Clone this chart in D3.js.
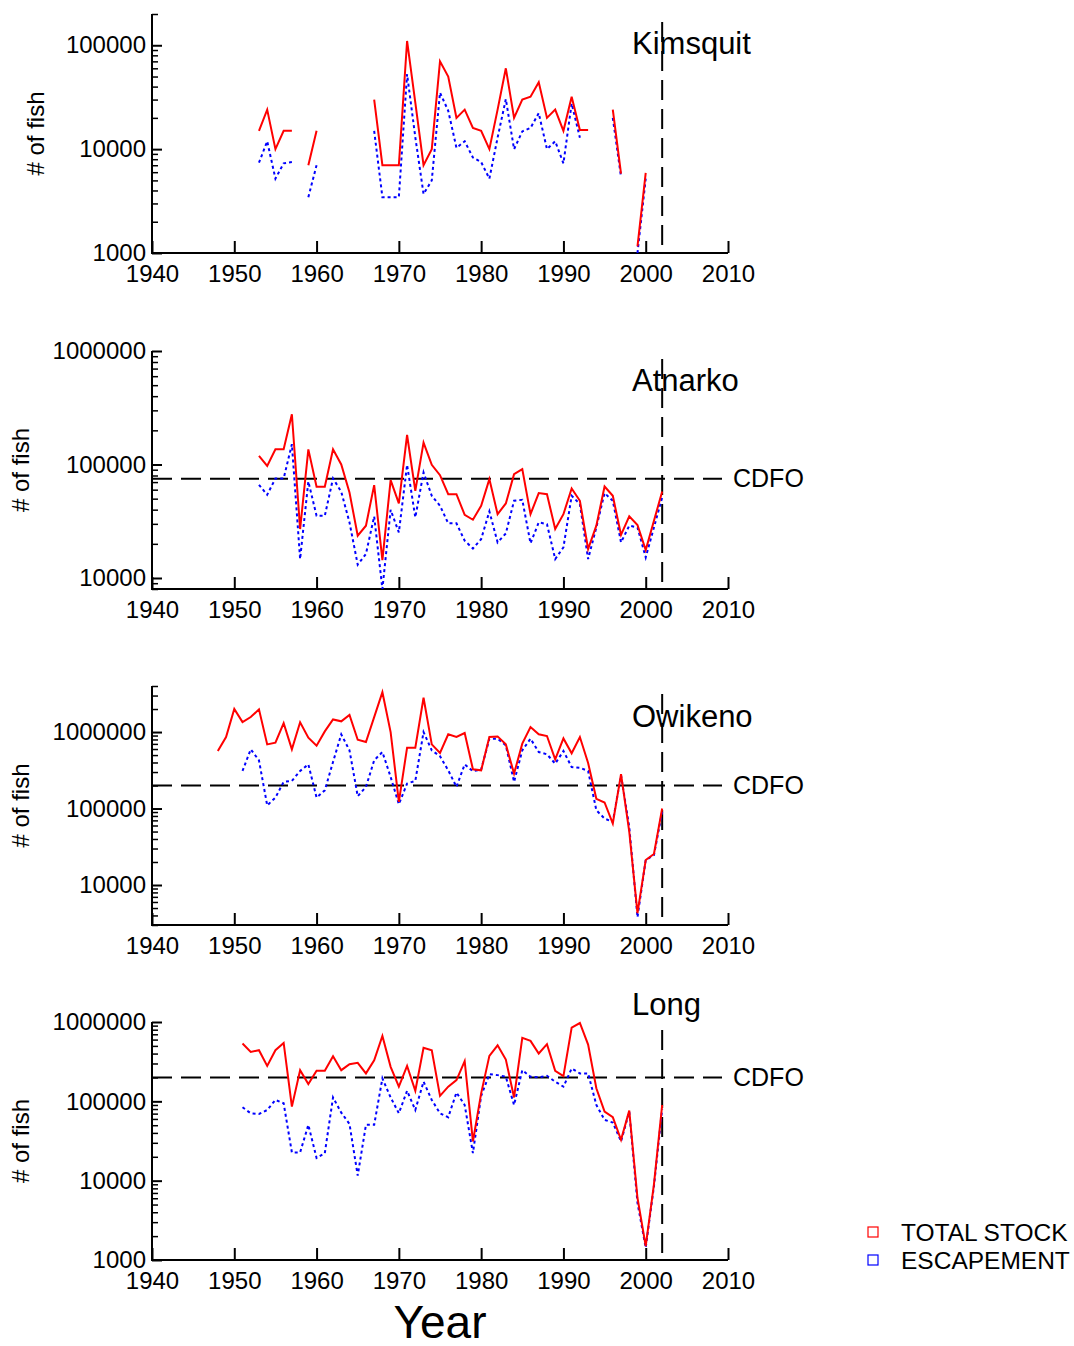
<!DOCTYPE html>
<html>
<head>
<meta charset="utf-8">
<script src="https://cdn.jsdelivr.net/npm/d3@7"></script>
<style>
body { margin: 0; background: #fff; }
svg { display: block; font-family: "Liberation Sans", Arial, sans-serif; }
</style>
</head>
<body>
<svg id="chart" width="1074" height="1346"></svg>
<script>
// x axis (years) shared by every panel
const yearTicks = [1940, 1950, 1960, 1970, 1980, 1990, 2000, 2010];
const markerYear = 2002;

// Kimsquit, 1953-2000 (null = no estimate)
const kimsquitStart = 1953;
const kimsquitTotal = [15000, 24000, 10000, 15000, 15000, null, 7000, 15000,
  null, null, null, null, null, null,
  30000, 7000, 7000, 7000, 110000, 28000, 7000, 10000, 70000, 50000,
  20000, 24000, 16000, 15000, 10000, 24000, 60000, 20000, 30000, 32000,
  44000, 20000, 24000, 15000, 32000, 15300, 15300, null, null, 24000,
  5800, null, 1160, 5900];
const kimsquitEscapement = [7400, 11900, 5200, 7300, 7500, null, 3450, 7000,
  null, null, null, null, null, null,
  15000, 3450, 3450, 3450, 52700, 13000, 3700, 5000, 35000, 23400,
  10300, 11900, 8300, 7500, 5200, 12900, 30300, 10000, 14800, 16000,
  22200, 10000, 11900, 7300, 27500, 12900, null, null, null, 20000,
  5400, null, 1000, 5200];

// Atnarko, 1953-2002
const atnarkoStart = 1953;
const atnarkoTotal = [119000, 97000, 136000, 136000, 277000, 27000, 136000, 63600, 63600, 136000,
  100000, 56700, 23600, 28900, 65800, 14400, 72800, 45400, 182000, 58600,
  156000, 99300, 80500, 54800, 54800, 36000, 32600, 43300, 74300, 36500,
  45400, 82200, 91000, 36500, 56000, 54800, 27000, 36500, 61500, 47900,
  18000, 28900, 64000, 53000, 24000, 34900, 29300, 17600, 31900, 57800];
const atnarkoEscapement = [66200, 54100, 75300, 75300, 151000, 14700, 70800, 35300, 35300, 75300,
  57500, 30900, 13100, 16300, 34900, 8000, 39900, 25200, 99300, 34200,
  85100, 53000, 43300, 30300, 30300, 21300, 18200, 22000, 38600, 20600,
  24700, 47900, 48900, 20200, 30900, 29800, 14700, 18600, 53000, 44800,
  14700, 27900, 56000, 47900, 20600, 28900, 27900, 15200, 27900, 51200];
const atnarkoCdfo = 75000;

// Owikeno, 1948-2002
const owikenoStart = 1948;
const owikenoTotal = [565000, 861000, 2010000, 1350000, 1570000, 1980000, 690000, 726000, 1310000, 594000,
  1340000, 844000, 664000, 1020000, 1460000, 1380000, 1670000, 794000, 741000, 1570000,
  3320000, 1000000, 122000, 625000, 625000, 2810000, 690000, 532000, 933000, 861000,
  970000, 326000, 316000, 861000, 877000, 690000, 286000, 705000, 1160000, 933000,
  887000, 440000, 826000, 527000, 861000, 394000, 134000, 120000, 63700, 281000,
  50000, 4300, 21200, 25400, 100000];
const owikenoEscapement = [null, null, null, 310000, 594000, 427000, 110000, 139000, 223000, 230000,
  310000, 378000, 139000, 173000, 406000, 933000, 577000, 145000, 192000, 427000,
  548000, 259000, 114000, 212000, 230000, 1000000, 577000, 482000, 316000, 192000,
  378000, 307000, 323000, 818000, 818000, 670000, 223000, 577000, 818000, 548000,
  512000, 386000, 565000, 349000, 341000, 310000, 95000, 74000, 67000, 272000,
  57500, 3790, 21200, 24600, 90600];
const owikenoCdfo = 200000;

// Long, 1951-2002
const longStart = 1951;
const longTotal = [535000, 420000, 441000, 280000, 441000, 545000, 85700, 247000, 165000, 243000,
  243000, 371000, 247000, 294000, 306000, 225000, 330000, 667000, 272000, 153000,
  280000, 136000, 472000, 441000, 117000, 153000, 185000, 321000, 31200, 126000,
  374000, 509000, 336000, 112000, 630000, 578000, 401000, 525000, 243000, 208000,
  849000, 971000, 519000, 146000, 74200, 63000, 32700, 76400, 6050, 1500,
  9000, 89900];
const longEscapement = [84100, 70700, 69300, 77800, 104000, 94400, 22700, 22700, 50500, 19300,
  22200, 112000, 72000, 51900, 11600, 50500, 50500, 195000, 112000, 70700,
  136000, 77800, 177000, 104000, 70700, 63000, 129000, 89900, 22200, 117000,
  220000, 214000, 204000, 89900, 247000, 204000, 200000, 210000, 177000, 153000,
  259000, 225000, 225000, 90000, 58400, 54000, 31200, 74200, 5250, 1430,
  8500, 80000];
const longCdfo = 200000;

const legendLabels = ["TOTAL STOCK", "ESCAPEMENT"];

// panel layout (pixels) lives here, apart from the data
const panels = [
  {name: "Kimsquit", start: kimsquitStart, total: kimsquitTotal, esc: kimsquitEscapement, cdfo: null,
   domain: [1000, 200000], top: 14, bottom: 253, titleY: 54, ylabX: 44},
  {name: "Atnarko", start: atnarkoStart, total: atnarkoTotal, esc: atnarkoEscapement, cdfo: atnarkoCdfo,
   domain: [8000, 1000000], top: 351, bottom: 589, titleY: 391, ylabX: 29},
  {name: "Owikeno", start: owikenoStart, total: owikenoTotal, esc: owikenoEscapement, cdfo: owikenoCdfo,
   domain: [3000, 4000000], top: 686, bottom: 925, titleY: 727, ylabX: 29},
  {name: "Long", start: longStart, total: longTotal, esc: longEscapement, cdfo: longCdfo,
   domain: [1000, 1000000], top: 1022, bottom: 1260, titleY: 1015, ylabX: 29}
];

const svg = d3.select("#chart");
const x = d3.scaleLinear().domain([1940, 2010]).range([152, 728]);

function toPoints(start, values) {
  return values.map((v, i) => ({year: start + i, value: v}));
}

panels.forEach((p, idx) => {
  const y = d3.scaleLog().domain(p.domain).range([p.bottom, p.top]);
  const g = svg.append("g");

  const clipId = "clip" + idx;
  g.append("clipPath").attr("id", clipId)
    .append("rect")
    .attr("x", x(1940)).attr("y", p.top - 2)
    .attr("width", x(2010) - x(1940)).attr("height", p.bottom - p.top + 4);

  // y axis: minor ticks, then major ticks with labels
  const allTicks = y.ticks().filter(t => t >= p.domain[0] && t <= p.domain[1]);
  const majorTicks = allTicks.filter(t => Math.abs(Math.log10(t) - Math.round(Math.log10(t))) < 1e-9);
  const minorTicks = allTicks.filter(t => !majorTicks.includes(t));

  const minorAxis = g.append("g")
    .attr("transform", "translate(" + x(1940) + ",0)")
    .call(d3.axisLeft(y).tickValues(minorTicks).tickSize(-6).tickFormat(""));
  minorAxis.select(".domain").remove();
  minorAxis.selectAll("line").attr("stroke-width", 1.5);

  const majorAxis = g.append("g")
    .attr("transform", "translate(" + x(1940) + ",0)")
    .call(d3.axisLeft(y).tickValues(majorTicks).tickSize(-10).tickPadding(6).tickFormat(d3.format("d")));
  majorAxis.select(".domain").remove();
  majorAxis.selectAll("line").attr("stroke-width", 2);
  majorAxis.selectAll("text")
    .attr("font-size", 24)
    .attr("font-family", "Liberation Sans, Arial, sans-serif")
    .attr("fill", "#000");

  // x axis
  const xAxis = g.append("g")
    .attr("transform", "translate(0," + p.bottom + ")")
    .call(d3.axisBottom(x).tickValues(yearTicks).tickSize(-12).tickPadding(12).tickFormat(d3.format("d")));
  xAxis.select(".domain").remove();
  xAxis.selectAll("line").attr("stroke-width", 2);
  xAxis.selectAll("text")
    .attr("font-size", 24)
    .attr("font-family", "Liberation Sans, Arial, sans-serif")
    .attr("fill", "#000");

  // axis lines
  g.append("line")
    .attr("x1", x(1940)).attr("x2", x(1940))
    .attr("y1", p.top).attr("y2", p.bottom + 1)
    .attr("stroke", "#000").attr("stroke-width", 2);
  g.append("line")
    .attr("x1", x(1940) - 1).attr("x2", x(2010))
    .attr("y1", p.bottom).attr("y2", p.bottom)
    .attr("stroke", "#000").attr("stroke-width", 2);

  // y label
  g.append("text")
    .attr("transform", "translate(" + p.ylabX + "," + ((p.top + p.bottom) / 2) + ") rotate(-90)")
    .attr("text-anchor", "middle")
    .attr("font-size", 24)
    .text("# of fish");

  // title
  g.append("text")
    .attr("x", 632).attr("y", p.titleY)
    .attr("font-size", 31)
    .text(p.name);

  // CDFO reference
  if (p.cdfo !== null) {
    g.append("line")
      .attr("x1", x(1940)).attr("x2", 722)
      .attr("y1", y(p.cdfo)).attr("y2", y(p.cdfo))
      .attr("stroke", "#000").attr("stroke-width", 2)
      .attr("stroke-dasharray", "20,9");
    g.append("text")
      .attr("x", 733).attr("y", y(p.cdfo) + 2)
      .attr("dominant-baseline", "middle")
      .attr("font-size", 25)
      .text("CDFO");
  }

  // vertical marker
  g.append("line")
    .attr("x1", x(markerYear)).attr("x2", x(markerYear))
    .attr("y1", p.top + 8).attr("y2", p.bottom)
    .attr("stroke", "#000").attr("stroke-width", 2)
    .attr("stroke-dasharray", "20,9");

  const line = d3.line()
    .defined(d => d.value !== null)
    .x(d => x(d.year))
    .y(d => y(d.value));

  g.append("path")
    .datum(toPoints(p.start, p.esc))
    .attr("clip-path", "url(#" + clipId + ")")
    .attr("fill", "none")
    .attr("stroke", "#0000ff")
    .attr("stroke-width", 2)
    .attr("stroke-dasharray", "3,3")
    .attr("d", line);

  g.append("path")
    .datum(toPoints(p.start, p.total))
    .attr("clip-path", "url(#" + clipId + ")")
    .attr("fill", "none")
    .attr("stroke", "#ff0000")
    .attr("stroke-width", 2)
    .attr("d", line);
});

// x title
svg.append("text")
  .attr("x", 440).attr("y", 1338)
  .attr("text-anchor", "middle")
  .attr("font-size", 46)
  .text("Year");

// legend
const legendColors = ["#ff0000", "#0000ff"];
const legend = svg.append("g");
legendLabels.forEach((label, i) => {
  legend.append("rect")
    .attr("x", 868).attr("y", 1227 + i * 28)
    .attr("width", 10).attr("height", 10)
    .attr("fill", "none")
    .attr("stroke", legendColors[i])
    .attr("stroke-width", 1.2);
  legend.append("text")
    .attr("x", 901).attr("y", 1241 + i * 28)
    .attr("font-size", 24.5)
    .text(label);
});
</script>
</body>
</html>
